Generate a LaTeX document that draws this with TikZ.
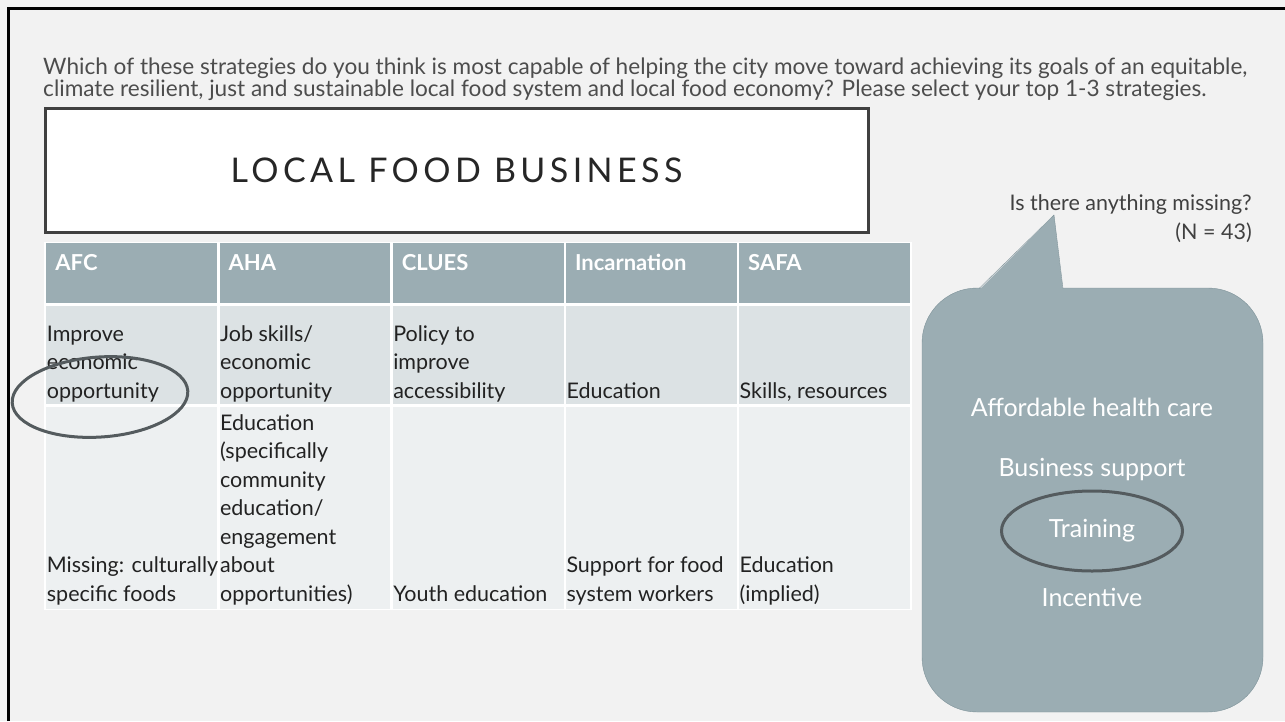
\documentclass[tikz,border=0pt]{standalone}
\usepackage{fontspec}
\setmainfont{Lato}
\newfontfamily\spacedcaps[LetterSpace=13]{Lato}
\usetikzlibrary{positioning,shapes.geometric}

\definecolor{slidebg}{HTML}{F2F2F2}
\definecolor{inkgrey}{HTML}{404040}
\definecolor{askgrey}{HTML}{4D4D4D}
\definecolor{cellink}{HTML}{222222}
\definecolor{hdfill}{HTML}{9BADB3}
\definecolor{rowafill}{HTML}{DCE2E4}
\definecolor{rowbfill}{HTML}{EDF0F1}
\definecolor{ringgrey}{HTML}{545B5E}
\definecolor{calloutline}{HTML}{7D9299}

\tikzset{
  hdcell/.style={fill=hdfill, anchor=north west, inner sep=0pt, minimum width=170.8pt, minimum height=60pt},
  rowacell/.style={fill=rowafill, anchor=north west, inner sep=0pt, minimum width=170.8pt, minimum height=98pt},
  rowbcell/.style={fill=rowbfill, anchor=north west, inner sep=0pt, minimum width=170.8pt, minimum height=202pt},
  hdtext/.style={anchor=north west, inner sep=0pt, text=white, font=\fontsize{22}{26}\selectfont\bfseries},
  celltext/.style={anchor=south west, inner sep=0pt, align=left, text=cellink,
    font=\fontsize{21.5}{28.5}\selectfont, execute at end node=\strut},
  bubbletext/.style={text=white, inner sep=0pt, font=\fontsize{25}{30}\selectfont},
  ring/.style={ellipse, draw=ringgrey, line width=3pt, inner sep=0pt}
}

\begin{document}
\begin{tikzpicture}[x=1pt, y=-1pt]
  \useasboundingbox (0,0) rectangle (1285,721);
  \fill[slidebg] (0,0) rectangle (1285,721);
  \draw[line width=3pt] (8,721) -- (8,8) -- (1285,8);

  % question
  \node[anchor=north west, align=left, inner sep=0pt, text=askgrey,
        font=\fontsize{22.6}{20.5}\selectfont] (ask) at (43,58)
    {Which of these strategies do you think is most capable of helping the city move toward achieving its goals of an equitable,\\
     climate resilient, just and sustainable local food system and local food economy? Please select your top 1-3 strategies.};

  % title box
  \node[draw=inkgrey, line width=3pt, fill=white, minimum width=823pt, minimum height=124pt,
        text=black!85, font=\fontsize{34}{38}\spacedcaps] (title) at (456.5,170) {LOCAL FOOD BUSINESS};

  % table
  \fill[white] (44,242) rectangle (912,610);
  \foreach \i in {1,...,5} {
    \node[hdcell] (h\i) at ({46.2+(\i-1)*173.2},243) {};
    \node[rowacell] (a\i) at ({46.2+(\i-1)*173.2},306) {};
    \node[rowbcell] (b\i) at ({46.2+(\i-1)*173.2},407) {};
  }
  \node[hdtext] at ([shift={(9,11)}]h1.north west) {AFC};
  \node[hdtext] at ([shift={(9,11)}]h2.north west) {AHA};
  \node[hdtext] at ([shift={(9,11)}]h3.north west) {CLUES};
  \node[hdtext] at ([shift={(9,11)}]h4.north west) {Incarnation};
  \node[hdtext] at ([shift={(9,11)}]h5.north west) {SAFA};

  \node[celltext] at ([shift={(0.5,2.6)}]a1.south west) {Improve\\economic\\opportunity};
  \node[celltext] at ([shift={(0.5,2.6)}]a2.south west) {Job skills/\\economic\\opportunity};
  \node[celltext] at ([shift={(0.5,2.6)}]a3.south west) {Policy to\\improve\\accessibility};
  \node[celltext] at ([shift={(0.5,2.6)}]a4.south west) {Education};
  \node[celltext] at ([shift={(0.5,2.6)}]a5.south west) {Skills, resources};

  \node[celltext] at ([shift={(0.5,0.6)}]b1.south west) {Missing: culturally\\specific foods};
  \node[celltext] at ([shift={(0.5,0.6)}]b2.south west)
    {Education\\(specifically\\community\\education/\\engagement\\about\\opportunities)};
  \node[celltext] at ([shift={(0.5,0.6)}]b3.south west) {Youth education};
  \node[celltext] at ([shift={(0.5,0.6)}]b4.south west) {Support for food\\system workers};
  \node[celltext] at ([shift={(0.5,0.6)}]b5.south west) {Education\\(implied)};

  \node[ring, rotate=4, minimum width=176pt, minimum height=80pt] (afcring) at (100,397) {};

  % callout
  \node[anchor=north east, align=right, inner sep=0pt, text=inkgrey,
        font=\fontsize{21.5}{29}\selectfont] (missing) at (1252,194) {Is there anything missing?\\(N = 43)};
  \node[fill=hdfill, draw=calloutline, rounded corners=55pt, minimum width=341pt, minimum height=424pt]
    (callout) at (1092.5,500) {};
  \coordinate (tip) at (1054,215);
  \fill[hdfill] (979,290) -- (tip) -- (1063,290) -- cycle;
  \draw[calloutline] (979,288.5) -- (tip) -- (1063,288.5);

  \node[bubbletext] (health) at (1092,407) {Affordable health care};
  \node[bubbletext] (support) at (1092,470) {Business support};
  \node[bubbletext, ring, minimum width=181pt, minimum height=80pt] (training) at (1092,531) {Training};
  \node[bubbletext] (incentive) at (1092,597) {Incentive};
\end{tikzpicture}
\end{document}
